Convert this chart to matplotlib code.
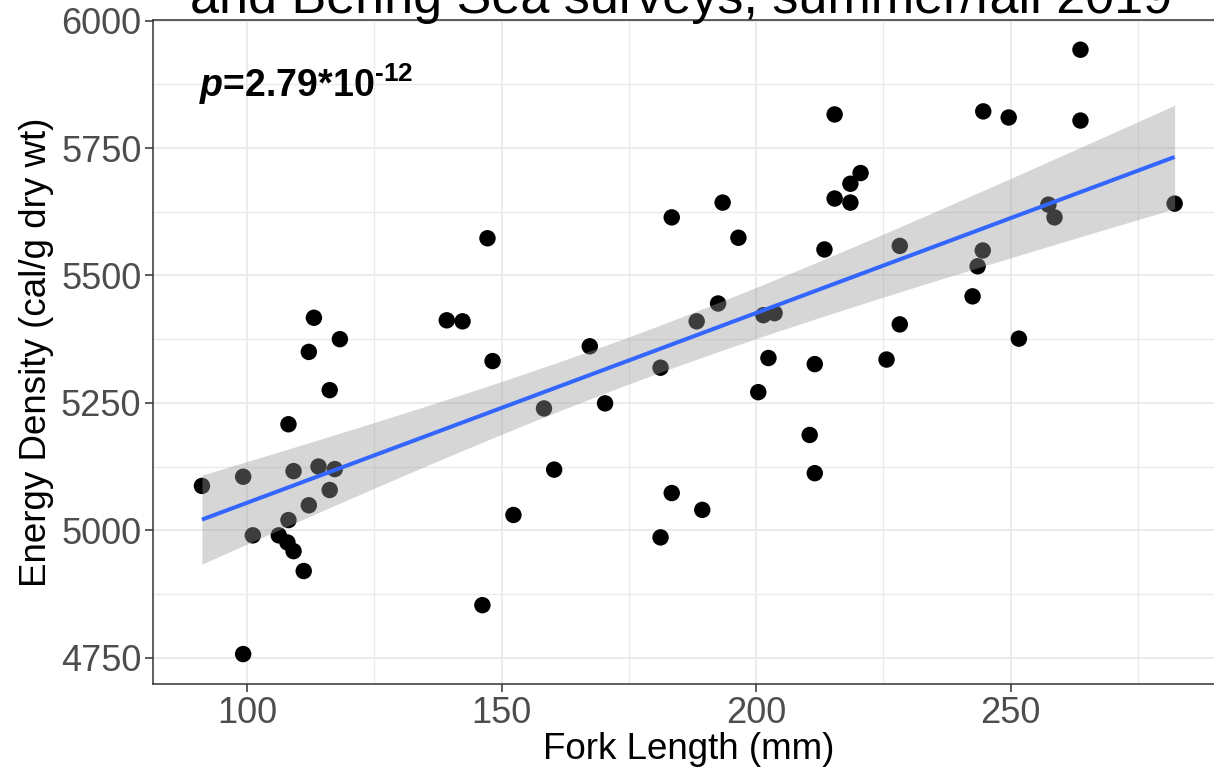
import numpy as np
import matplotlib
matplotlib.use("Agg")
import matplotlib.pyplot as plt
from matplotlib.ticker import MultipleLocator

# ---- data ----
fork_length = [91.1, 99.2, 99.2, 101.1, 106.2, 108.1, 107.9, 109.1, 111.1, 108.1,
               109.1, 112.1, 112.1, 113.1, 114.0, 116.2, 116.2, 117.2, 118.2, 139.2,
               142.3, 148.2, 152.3, 146.2, 147.2, 158.3, 160.3, 167.3, 170.3, 181.2,
               183.4, 183.4, 181.2, 189.4, 188.3, 192.5, 193.4, 196.5, 201.4, 203.6,
               202.4, 200.4, 211.5, 210.5, 211.5, 213.4, 215.4, 218.5, 220.5, 218.5,
               215.4, 225.6, 228.2, 228.2, 263.7, 244.6, 249.6, 263.7, 257.4, 258.6,
               282.2, 244.5, 243.5, 242.5, 251.6]
energy_density = [5087, 5105, 4757, 4990, 4990, 5020, 4976, 4959, 4920, 5208,
                  5116, 5049, 5350, 5417, 5125, 5079, 5275, 5120, 5375, 5412,
                  5410, 5332, 5030, 4853, 5573, 5239, 5119, 5361, 5249, 5319,
                  5614, 5073, 4986, 5040, 5410, 5445, 5643, 5574, 5422, 5426,
                  5338, 5271, 5326, 5187, 5112, 5551, 5651, 5680, 5701, 5643,
                  5816, 5335, 5558, 5404, 5943, 5822, 5810, 5804, 5639, 5614,
                  5641, 5549, 5518, 5459, 5376]
x_ticks = [100, 150, 200, 250]
y_ticks = [4750, 5000, 5250, 5500, 5750, 6000]
title_text = "and Bering Sea surveys, summer/fall 2019"
x_label = "Fork Length (mm)"
y_label = "Energy Density (cal/g dry wt)"

# ---- style ----
plt.rcParams['font.family'] = ['Liberation Sans', 'DejaVu Sans']
plt.rcParams['mathtext.fontset'] = 'custom'
plt.rcParams['mathtext.rm'] = 'Liberation Sans:bold'
plt.rcParams['mathtext.bf'] = 'Liberation Sans:bold'
plt.rcParams['mathtext.it'] = 'Liberation Sans:italic:bold'

x = np.asarray(fork_length, float)
y = np.asarray(energy_density, float)

# linear fit + 95% confidence band (like geom_smooth(method="lm"))
n = len(x)
b1, b0 = np.polyfit(x, y, 1)
resid = y - (b0 + b1 * x)
s = np.sqrt(np.sum(resid ** 2) / (n - 2))
df = n - 2
z = 1.959964
tq = z + (z**3 + z) / (4 * df) + (5 * z**5 + 16 * z**3 + 3 * z) / (96 * df**2)
xs = np.linspace(x.min(), x.max(), 200)
ys = b0 + b1 * xs
se = s * np.sqrt(1.0 / n + (xs - x.mean()) ** 2 / np.sum((x - x.mean()) ** 2))

W, H = 1214, 777
fig = plt.figure(figsize=(W / 100, H / 100), dpi=100)

xr = x.max() - x.min()
yr = y.max() - y.min()
xlim = (x.min() - 0.05 * xr, x.max() + 0.05 * xr)
ylim = (y.min() - 0.05 * yr, y.max() + 0.05 * yr)

left_px, top_px, bottom_px = 153.3, 19.5, 684.3
px_per_unit = 5.09
width_px = (xlim[1] - xlim[0]) * px_per_unit
ax = fig.add_axes([left_px / W, (H - bottom_px) / H, width_px / W, (bottom_px - top_px) / H])

ax.set_xlim(xlim)
ax.set_ylim(ylim)

ax.scatter(x, y, s=140, color='black', edgecolors='none', zorder=3)
ax.fill_between(xs, ys - tq * se, ys + tq * se, color='#999999', alpha=0.4,
                linewidth=0, zorder=4)
ax.plot(xs, ys, color='#3366FF', linewidth=2.9, zorder=5, solid_capstyle='butt')

ax.set_xticks(x_ticks)
ax.set_yticks(y_ticks)
ax.xaxis.set_minor_locator(MultipleLocator(25))
ax.yaxis.set_minor_locator(MultipleLocator(125))
ax.grid(which='major', color='#EBEBEB', linewidth=1.4, zorder=0)
ax.grid(which='minor', color='#EBEBEB', linewidth=1.0, zorder=0)
ax.set_axisbelow(True)
ax.tick_params(which='major', direction='out', length=5.5, width=1.1, color='#333333',
               labelsize=26, labelcolor='#4D4D4D', pad=3)
ax.tick_params(which='minor', length=0)
for sp in ax.spines.values():
    sp.set_color('#333333')
    sp.set_linewidth(1.1)

ax.set_xlabel(x_label, fontsize=26.5, color='black', labelpad=1)
ax.set_ylabel(y_label, fontsize=26.5, color='black', labelpad=5)

ax.text(90.5, 5850, '$\\it{p}$=2.79*10$^{\\mathbf{\u201012}}$', fontsize=27,
        fontweight='bold', ha='left', va='baseline', zorder=6)

fig.text(681 / W, 1 - 13 / H, title_text, fontsize=37.5, ha='center', va='baseline')

fig.savefig('out.png', dpi=100)
